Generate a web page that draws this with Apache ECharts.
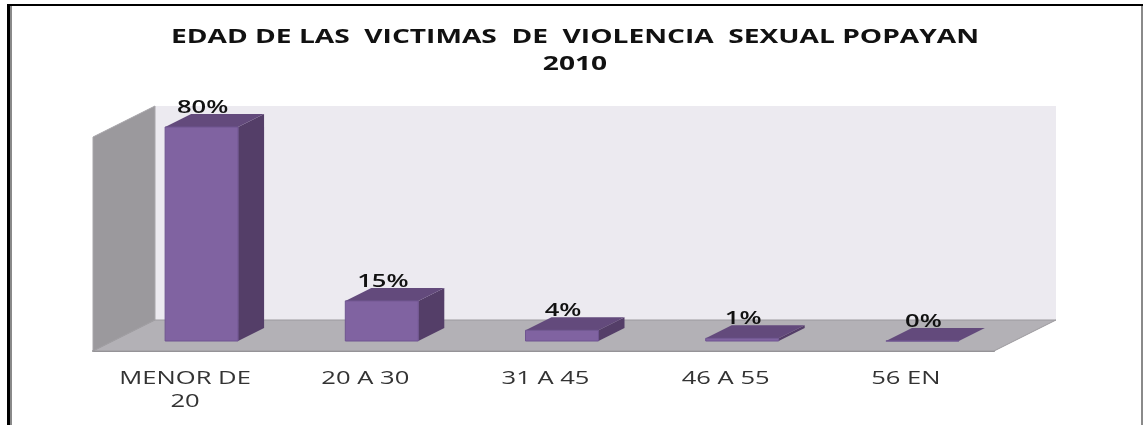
<!DOCTYPE html>
<html>
<head>
<meta charset="utf-8">
<style>
  html, body { margin: 0; background: #fff; }
  #chart { width: 1143px; height: 425px; }
</style>
</head>
<body>
<div id="chart"></div>
<script src="https://cdn.jsdelivr.net/npm/echarts@6/dist/echarts.min.js"></script>
<script>
const titleText = 'EDAD DE LAS  VICTIMAS  DE  VIOLENCIA  SEXUAL POPAYAN\n2010';
const categories = ['MENOR DE\n20', '20 A 30', '31 A 45', '46 A 55', '56 EN'];
const values = [80, 15, 4, 1, 0];

const FONT = '"Open Sans", sans-serif';
const TEXT_STRETCH = 1.42; // the source picture is stretched sideways, text too
// 3d look: floor depth of the whole box and depth of one bar, in px
const floorDepth = [62, -31];
const barDepth = [26, -13];
const barOffset = [18.5, -10]; // front of the bar sits this far into the floor
const barRatio = 0.405;

const myChart = echarts.init(document.getElementById('chart'), null, { renderer: 'canvas' });

const poly = (points, fill, stroke) => ({
  type: 'polygon',
  shape: { points },
  style: { fill, stroke: stroke || fill, lineWidth: stroke ? 1 : 0 },
});

const renderWalls = (params) => {
  const { x, y, width, height } = params.coordSys;
  const [dx, dy] = floorDepth;
  const bottom = y + height;
  return {
    type: 'group',
    children: [
      poly([[x + dx, y + dy], [x + width + dx, y + dy], [x + width + dx, bottom + dy], [x + dx, bottom + dy]], '#eceaf0'),
      poly([[x, y], [x + dx, y + dy], [x + dx, bottom + dy], [x, bottom]], '#9b999d', '#a8a6aa'),
      poly([[x, bottom], [x + width, bottom], [x + width + dx, bottom + dy], [x + dx, bottom + dy]], '#b3b1b6', '#9c9a9e'),
    ],
  };
};

const renderBar = (params, api) => {
  const base = api.coord([api.value(0), 0]);
  const top = api.coord([api.value(0), api.value(1)]);
  const w = api.size([1, 0])[0] * barRatio;
  const [dx, dy] = barDepth;
  const left = base[0] + barOffset[0] - w / 2;
  const right = left + w;
  const by = base[1] + barOffset[1];
  const ty = top[1] + barOffset[1];
  return {
    type: 'group',
    children: [
      poly([[right, ty], [right + dx, ty + dy], [right + dx, by + dy], [right, by]], '#543e68'),
      poly([[left, ty], [left + dx, ty + dy], [right + dx, ty + dy], [right, ty]], '#634a7c'),
      poly([[left, ty], [right, ty], [right, by], [left, by]], '#8063a1', '#6f5590'),
      {
        type: 'text',
        x: left + w / 2 + 1,
        y: ty + dy + 3,
        scaleX: TEXT_STRETCH,
        style: {
          text: api.value(1) + '%',
          fill: '#111',
          font: '600 18px ' + FONT,
          align: 'center',
          verticalAlign: 'bottom',
        },
      },
    ],
  };
};

// category labels drawn here because axisLabel can't be stretched
const renderTickLabel = (params, api) => {
  const base = api.coord([api.value(0), 0]);
  return {
    type: 'text',
    x: base[0] + 2,
    y: base[1] + 16,
    scaleX: TEXT_STRETCH,
    style: {
      text: categories[params.dataIndex],
      fill: '#333',
      font: '18px ' + FONT,
      lineHeight: 23,
      align: 'center',
      verticalAlign: 'top',
    },
  };
};

const option = {
  animation: false,
  backgroundColor: '#fff',
  grid: { left: 93, width: 901, top: 137, height: 214 },
  xAxis: {
    type: 'category',
    data: categories,
    axisTick: { show: false },
    axisLine: { lineStyle: { color: '#8e8c90', width: 2 } },
    axisLabel: { show: false },
  },
  yAxis: { type: 'value', min: 0, max: 80, show: false, splitLine: { show: false } },
  series: [
    { type: 'custom', renderItem: renderWalls, data: [0], silent: true, z: 1 },
    { type: 'custom', renderItem: renderBar, data: values.map((v, i) => [i, v]), encode: { x: 0, y: 1 }, z: 2 },
    { type: 'custom', renderItem: renderTickLabel, data: categories.map((c, i) => [i]), encode: { x: 0 }, silent: true, z: 3 },
  ],
  graphic: [
    // scanned frame of the picture
    { type: 'rect', shape: { x: 7, y: 4, width: 1136, height: 2 }, style: { fill: '#000' } },
    { type: 'rect', shape: { x: 7, y: 4, width: 3, height: 421 }, style: { fill: '#000' } },
    { type: 'rect', shape: { x: 10, y: 6, width: 2, height: 419 }, style: { fill: '#8a8a8a' } },
    { type: 'rect', shape: { x: 1141, y: 6, width: 2, height: 419 }, style: { fill: '#8a8a8a' } },
    {
      type: 'text',
      x: 575,
      y: 24,
      scaleX: 1.48,
      style: {
        text: titleText,
        fill: '#111',
        font: 'bold 19px ' + FONT,
        lineHeight: 27,
        align: 'center',
        verticalAlign: 'top',
      },
    },
  ],
};

myChart.setOption(option);
</script>
</body>
</html>
